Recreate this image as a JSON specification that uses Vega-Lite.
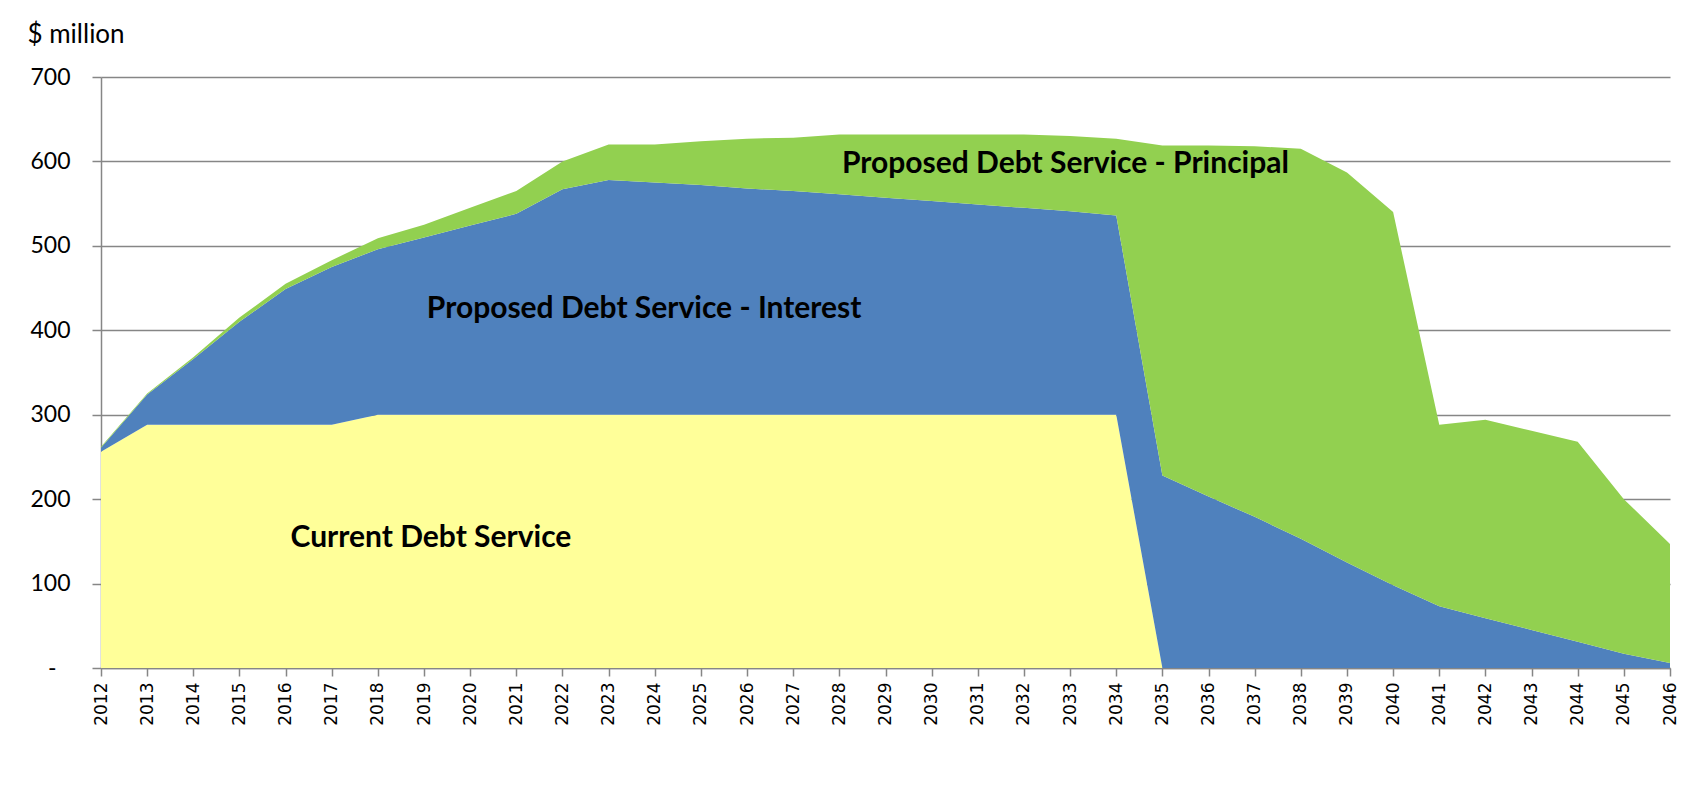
{
  "$schema": "https://vega.github.io/schema/vega-lite/v6.json",
  "width": 1569,
  "height": 591,
  "autosize": "none",
  "padding": {"left": 101, "top": 77, "right": 35, "bottom": 129},
  "background": "white",
  "config": {"view": {"stroke": null}, "font": "Lato"},
  "datasets": {
    "debt": [
      {"year": 2012, "series": "Current Debt Service", "k": 1, "value": 256},
      {"year": 2013, "series": "Current Debt Service", "k": 1, "value": 288},
      {"year": 2014, "series": "Current Debt Service", "k": 1, "value": 288},
      {"year": 2015, "series": "Current Debt Service", "k": 1, "value": 288},
      {"year": 2016, "series": "Current Debt Service", "k": 1, "value": 288},
      {"year": 2017, "series": "Current Debt Service", "k": 1, "value": 288},
      {"year": 2018, "series": "Current Debt Service", "k": 1, "value": 300},
      {"year": 2019, "series": "Current Debt Service", "k": 1, "value": 300},
      {"year": 2020, "series": "Current Debt Service", "k": 1, "value": 300},
      {"year": 2021, "series": "Current Debt Service", "k": 1, "value": 300},
      {"year": 2022, "series": "Current Debt Service", "k": 1, "value": 300},
      {"year": 2023, "series": "Current Debt Service", "k": 1, "value": 300},
      {"year": 2024, "series": "Current Debt Service", "k": 1, "value": 300},
      {"year": 2025, "series": "Current Debt Service", "k": 1, "value": 300},
      {"year": 2026, "series": "Current Debt Service", "k": 1, "value": 300},
      {"year": 2027, "series": "Current Debt Service", "k": 1, "value": 300},
      {"year": 2028, "series": "Current Debt Service", "k": 1, "value": 300},
      {"year": 2029, "series": "Current Debt Service", "k": 1, "value": 300},
      {"year": 2030, "series": "Current Debt Service", "k": 1, "value": 300},
      {"year": 2031, "series": "Current Debt Service", "k": 1, "value": 300},
      {"year": 2032, "series": "Current Debt Service", "k": 1, "value": 300},
      {"year": 2033, "series": "Current Debt Service", "k": 1, "value": 300},
      {"year": 2034, "series": "Current Debt Service", "k": 1, "value": 300},
      {"year": 2035, "series": "Current Debt Service", "k": 1, "value": 0},
      {"year": 2036, "series": "Current Debt Service", "k": 1, "value": 0},
      {"year": 2037, "series": "Current Debt Service", "k": 1, "value": 0},
      {"year": 2038, "series": "Current Debt Service", "k": 1, "value": 0},
      {"year": 2039, "series": "Current Debt Service", "k": 1, "value": 0},
      {"year": 2040, "series": "Current Debt Service", "k": 1, "value": 0},
      {"year": 2041, "series": "Current Debt Service", "k": 1, "value": 0},
      {"year": 2042, "series": "Current Debt Service", "k": 1, "value": 0},
      {"year": 2043, "series": "Current Debt Service", "k": 1, "value": 0},
      {"year": 2044, "series": "Current Debt Service", "k": 1, "value": 0},
      {"year": 2045, "series": "Current Debt Service", "k": 1, "value": 0},
      {"year": 2046, "series": "Current Debt Service", "k": 1, "value": 0},

      {"year": 2012, "series": "Proposed Debt Service - Interest", "k": 2, "value": 5},
      {"year": 2013, "series": "Proposed Debt Service - Interest", "k": 2, "value": 36},
      {"year": 2014, "series": "Proposed Debt Service - Interest", "k": 2, "value": 78},
      {"year": 2015, "series": "Proposed Debt Service - Interest", "k": 2, "value": 122},
      {"year": 2016, "series": "Proposed Debt Service - Interest", "k": 2, "value": 161},
      {"year": 2017, "series": "Proposed Debt Service - Interest", "k": 2, "value": 187},
      {"year": 2018, "series": "Proposed Debt Service - Interest", "k": 2, "value": 196},
      {"year": 2019, "series": "Proposed Debt Service - Interest", "k": 2, "value": 210},
      {"year": 2020, "series": "Proposed Debt Service - Interest", "k": 2, "value": 224},
      {"year": 2021, "series": "Proposed Debt Service - Interest", "k": 2, "value": 238},
      {"year": 2022, "series": "Proposed Debt Service - Interest", "k": 2, "value": 267},
      {"year": 2023, "series": "Proposed Debt Service - Interest", "k": 2, "value": 278},
      {"year": 2024, "series": "Proposed Debt Service - Interest", "k": 2, "value": 275},
      {"year": 2025, "series": "Proposed Debt Service - Interest", "k": 2, "value": 272},
      {"year": 2026, "series": "Proposed Debt Service - Interest", "k": 2, "value": 268},
      {"year": 2027, "series": "Proposed Debt Service - Interest", "k": 2, "value": 265},
      {"year": 2028, "series": "Proposed Debt Service - Interest", "k": 2, "value": 261},
      {"year": 2029, "series": "Proposed Debt Service - Interest", "k": 2, "value": 257},
      {"year": 2030, "series": "Proposed Debt Service - Interest", "k": 2, "value": 253},
      {"year": 2031, "series": "Proposed Debt Service - Interest", "k": 2, "value": 249},
      {"year": 2032, "series": "Proposed Debt Service - Interest", "k": 2, "value": 245},
      {"year": 2033, "series": "Proposed Debt Service - Interest", "k": 2, "value": 241},
      {"year": 2034, "series": "Proposed Debt Service - Interest", "k": 2, "value": 236},
      {"year": 2035, "series": "Proposed Debt Service - Interest", "k": 2, "value": 228},
      {"year": 2036, "series": "Proposed Debt Service - Interest", "k": 2, "value": 203},
      {"year": 2037, "series": "Proposed Debt Service - Interest", "k": 2, "value": 179},
      {"year": 2038, "series": "Proposed Debt Service - Interest", "k": 2, "value": 153},
      {"year": 2039, "series": "Proposed Debt Service - Interest", "k": 2, "value": 125},
      {"year": 2040, "series": "Proposed Debt Service - Interest", "k": 2, "value": 98},
      {"year": 2041, "series": "Proposed Debt Service - Interest", "k": 2, "value": 73},
      {"year": 2042, "series": "Proposed Debt Service - Interest", "k": 2, "value": 59},
      {"year": 2043, "series": "Proposed Debt Service - Interest", "k": 2, "value": 45},
      {"year": 2044, "series": "Proposed Debt Service - Interest", "k": 2, "value": 31},
      {"year": 2045, "series": "Proposed Debt Service - Interest", "k": 2, "value": 17},
      {"year": 2046, "series": "Proposed Debt Service - Interest", "k": 2, "value": 6},

      {"year": 2012, "series": "Proposed Debt Service - Principal", "k": 3, "value": 1},
      {"year": 2013, "series": "Proposed Debt Service - Principal", "k": 3, "value": 1},
      {"year": 2014, "series": "Proposed Debt Service - Principal", "k": 3, "value": 2},
      {"year": 2015, "series": "Proposed Debt Service - Principal", "k": 3, "value": 5},
      {"year": 2016, "series": "Proposed Debt Service - Principal", "k": 3, "value": 6},
      {"year": 2017, "series": "Proposed Debt Service - Principal", "k": 3, "value": 8},
      {"year": 2018, "series": "Proposed Debt Service - Principal", "k": 3, "value": 13},
      {"year": 2019, "series": "Proposed Debt Service - Principal", "k": 3, "value": 15},
      {"year": 2020, "series": "Proposed Debt Service - Principal", "k": 3, "value": 21},
      {"year": 2021, "series": "Proposed Debt Service - Principal", "k": 3, "value": 27},
      {"year": 2022, "series": "Proposed Debt Service - Principal", "k": 3, "value": 33},
      {"year": 2023, "series": "Proposed Debt Service - Principal", "k": 3, "value": 42},
      {"year": 2024, "series": "Proposed Debt Service - Principal", "k": 3, "value": 45},
      {"year": 2025, "series": "Proposed Debt Service - Principal", "k": 3, "value": 52},
      {"year": 2026, "series": "Proposed Debt Service - Principal", "k": 3, "value": 59},
      {"year": 2027, "series": "Proposed Debt Service - Principal", "k": 3, "value": 63},
      {"year": 2028, "series": "Proposed Debt Service - Principal", "k": 3, "value": 71},
      {"year": 2029, "series": "Proposed Debt Service - Principal", "k": 3, "value": 75},
      {"year": 2030, "series": "Proposed Debt Service - Principal", "k": 3, "value": 79},
      {"year": 2031, "series": "Proposed Debt Service - Principal", "k": 3, "value": 83},
      {"year": 2032, "series": "Proposed Debt Service - Principal", "k": 3, "value": 87},
      {"year": 2033, "series": "Proposed Debt Service - Principal", "k": 3, "value": 89},
      {"year": 2034, "series": "Proposed Debt Service - Principal", "k": 3, "value": 91},
      {"year": 2035, "series": "Proposed Debt Service - Principal", "k": 3, "value": 391},
      {"year": 2036, "series": "Proposed Debt Service - Principal", "k": 3, "value": 416},
      {"year": 2037, "series": "Proposed Debt Service - Principal", "k": 3, "value": 439},
      {"year": 2038, "series": "Proposed Debt Service - Principal", "k": 3, "value": 462},
      {"year": 2039, "series": "Proposed Debt Service - Principal", "k": 3, "value": 462},
      {"year": 2040, "series": "Proposed Debt Service - Principal", "k": 3, "value": 442},
      {"year": 2041, "series": "Proposed Debt Service - Principal", "k": 3, "value": 215},
      {"year": 2042, "series": "Proposed Debt Service - Principal", "k": 3, "value": 235},
      {"year": 2043, "series": "Proposed Debt Service - Principal", "k": 3, "value": 236},
      {"year": 2044, "series": "Proposed Debt Service - Principal", "k": 3, "value": 237},
      {"year": 2045, "series": "Proposed Debt Service - Principal", "k": 3, "value": 183},
      {"year": 2046, "series": "Proposed Debt Service - Principal", "k": 3, "value": 141}
    ],
    "labels": [
      {"year": 2032.9, "value": 597, "text": "Proposed Debt Service - Principal"},
      {"year": 2023.77, "value": 425, "text": "Proposed Debt Service - Interest"},
      {"year": 2019.15, "value": 154, "text": "Current Debt Service"}
    ]
  },
  "layer": [
    {
      "data": {"name": "debt"},
      "mark": {"type": "area", "interpolate": "linear"},
      "encoding": {
        "x": {
          "field": "year",
          "type": "quantitative",
          "scale": {"domain": [2012, 2046], "nice": false, "zero": false},
          "axis": {
            "title": null,
            "values": [2012,2013,2014,2015,2016,2017,2018,2019,2020,2021,2022,2023,2024,2025,2026,2027,2028,2029,2030,2031,2032,2033,2034,2035,2036,2037,2038,2039,2040,2041,2042,2043,2044,2045,2046],
            "format": "d",
            "labelAngle": -90,
            "labelAlign": "right",
            "labelBaseline": "middle",
            "labelOverlap": false,
            "labelFont": "DejaVu Sans",
            "labelFontSize": 17,
            "labelColor": "#000000",
            "labelPadding": 6,
            "tickSize": 8,
            "tickColor": "#868686",
            "tickWidth": 1.5,
            "domainColor": "#868686",
            "domainWidth": 1.5,
            "grid": false
          }
        },
        "y": {
          "field": "value",
          "type": "quantitative",
          "stack": "zero",
          "scale": {"domain": [0, 700], "nice": false},
          "axis": {
            "title": "$ million",
            "titleAngle": 0,
            "titleX": -74,
            "titleY": -43,
            "titleAlign": "left",
            "titleBaseline": "middle",
            "titleFont": "Lato",
            "titleFontSize": 26,
            "titleFontWeight": "normal",
            "titleColor": "#000000",
            "values": [0, 100, 200, 300, 400, 500, 600, 700],
            "labelExpr": "datum.value === 0 ? '-' : datum.label",
            "labelFont": "Lato",
            "labelFontSize": 23,
            "labelColor": "#000000",
            "labelPadding": {"condition": {"test": "datum.value === 0", "value": 36}, "value": 22},
            "tickSize": 9,
            "tickColor": "#868686",
            "tickWidth": 1.5,
            "domainColor": "#868686",
            "domainWidth": 1.5,
            "grid": true,
            "gridColor": "#868686",
            "gridWidth": 1.5
          }
        },
        "color": {
          "field": "series",
          "type": "nominal",
          "scale": {
            "domain": ["Current Debt Service", "Proposed Debt Service - Interest", "Proposed Debt Service - Principal"],
            "range": ["#FFFF99", "#4F81BD", "#92D050"]
          },
          "legend": null
        },
        "order": {"field": "k", "type": "quantitative"}
      }
    },
    {
      "data": {"name": "labels"},
      "mark": {"type": "text", "font": "Lato", "fontWeight": "bold", "fontSize": 30, "color": "#000000", "align": "center", "baseline": "middle"},
      "encoding": {
        "x": {"field": "year", "type": "quantitative"},
        "y": {"field": "value", "type": "quantitative"},
        "text": {"field": "text"}
      }
    }
  ]
}
